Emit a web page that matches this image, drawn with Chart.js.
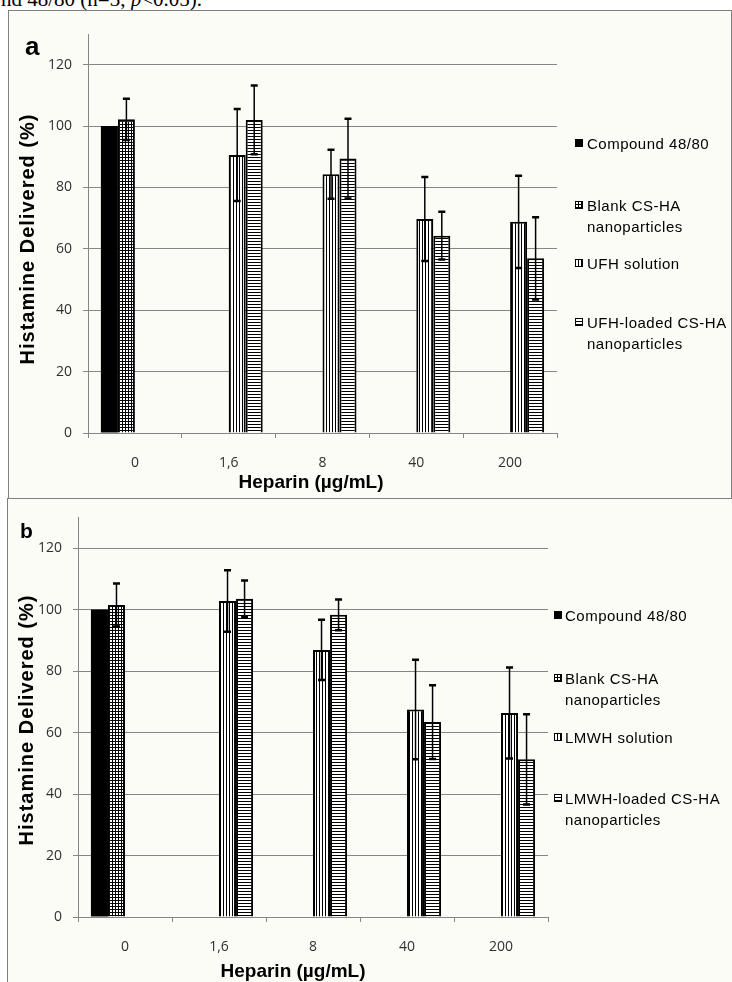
<!DOCTYPE html>
<html>
<head>
<meta charset="utf-8">
<script src="https://cdn.jsdelivr.net/npm/chart.js@4.4.1/dist/chart.umd.min.js"></script>
<style>
  html, body { margin: 0; padding: 0; background: #fff; width: 732px; height: 982px; overflow: hidden; }
  body { position: relative; font-family: "Liberation Sans", Arial, sans-serif; }
  .caption { position: absolute; left: 1px; top: -11px; font: 21px/21px "Liberation Serif", "Times New Roman", serif; white-space: nowrap; }
  .panel { position: absolute; background: #fcfcf6; box-sizing: border-box; }
  #panelA { left: 8px; top: 10px; width: 724px; height: 489px; border: 1px solid #808080; }
  #panelB { left: 7px; top: 498px; width: 725px; height: 490px; border-left: 1px solid #808080; border-top: 1px solid #808080; }
  canvas.chart { position: absolute; }
  .tag { position: absolute; font-weight: bold; line-height: 1; }
  .xt { position: absolute; font: bold 19px/19px "Liberation Sans", Arial, sans-serif; transform: translateX(-50%); white-space: nowrap; }
  .yt { position: absolute; font: bold 20px/20px "Liberation Sans", Arial, sans-serif; letter-spacing: 1px; transform: translate(-50%, -50%) rotate(-90deg); white-space: nowrap; }
  .item { position: absolute; font: 15px/21px "Liberation Sans", Arial, sans-serif; letter-spacing: 0.5px; white-space: nowrap; }
  .item canvas { position: absolute; left: 0; top: 6px; }
  .item span { position: absolute; top: 0; }
</style>
</head>
<body>
<div class="caption">nd 48/80 (n=3, <i>p</i>&lt;0.05).</div>

<div class="panel" id="panelA"></div>
<div class="panel" id="panelB"></div>

<canvas class="chart" id="chartA" width="723" height="488" style="left:8px;top:10px"></canvas>
<canvas class="chart" id="chartB" width="725" height="492" style="left:7px;top:498px"></canvas>

<div class="tag" style="left:25px;top:33px;font-size:26px">a</div>
<div class="tag" style="left:20px;top:520px;font-size:21px">b</div>

<div class="yt" style="left:27px;top:239px">Histamine Delivered (%)</div>
<div class="yt" style="left:26px;top:720px">Histamine Delivered (%)</div>
<div class="xt" style="left:311px;top:472px">Heparin (µg/mL)</div>
<div class="xt" style="left:293px;top:961px">Heparin (µg/mL)</div>

<div id="legendA"></div>
<div id="legendB"></div>

<script>
// concentrations on the x axis
const doses = ['0', '1,6', '8', '40', '200'];
const yTicks = [0, 20, 40, 60, 80, 100, 120];

// panel a - UFH
const compoundA = [100, null, null, null, null];
const blankA = [102.2, null, null, null, null];
const blankErrA = [6.7, null, null, null, null];
const ufhSol = [null, 90.6, 84.3, 69.7, 68.8];
const ufhSolErr = [null, 15, 8, 13.7, 15];
const ufhNp = [null, 102, 89.4, 64.3, 56.9];
const ufhNpErr = [null, 11.2, 13, 7.8, 13.4];
const seriesA = ['Compound 48/80', 'Blank CS-HA\nnanoparticles', 'UFH solution', 'UFH-loaded CS-HA\nnanoparticles'];

// panel b - LMWH
const compoundB = [100, null, null, null, null];
const blankB = [101.5, null, null, null, null];
const blankErrB = [7, null, null, null, null];
const lmwhSol = [null, 102.8, 86.9, 67.5, 66.4];
const lmwhSolErr = [null, 10, 9.8, 16.2, 14.8];
const lmwhNp = [null, 103.5, 98.3, 63.4, 51.3];
const lmwhNpErr = [null, 6, 5, 12, 14.7];
const seriesB = ['Compound 48/80', 'Blank CS-HA\nnanoparticles', 'LMWH solution', 'LMWH-loaded CS-HA\nnanoparticles'];

// hatch fills like the old excel ones
function makePattern(kind) {
    const c = document.createElement('canvas');
    c.width = 3; c.height = 3;
    const g = c.getContext('2d');
    g.fillStyle = '#fff';
    g.fillRect(0, 0, 3, 3);
    g.fillStyle = '#000';
    if (kind === 'grid' || kind === 'vert') g.fillRect(0, 0, 1, 3);
    if (kind === 'grid' || kind === 'horiz') g.fillRect(0, 0, 3, 1);
    return g.createPattern(c, 'repeat');
}
const fills = ['#000', makePattern('grid'), makePattern('vert'), makePattern('horiz')];

const errorBars = {
    id: 'errorBars',
    afterDatasetsDraw(chart) {
        const ctx = chart.ctx;
        const y = chart.scales.y;
        chart.data.datasets.forEach((ds, i) => {
            if (!ds.errors) return;
            chart.getDatasetMeta(i).data.forEach((bar, j) => {
                const v = ds.data[j], e = ds.errors[j];
                if (v == null || e == null) return;
                const top = y.getPixelForValue(v + e);
                const bot = y.getPixelForValue(v - e);
                ctx.save();
                ctx.strokeStyle = '#000';
                ctx.lineWidth = 1.5;
                ctx.beginPath();
                ctx.moveTo(bar.x, top); ctx.lineTo(bar.x, bot);
                ctx.stroke();
                ctx.lineWidth = 2.5;
                ctx.beginPath();
                ctx.moveTo(bar.x - 3.5, top); ctx.lineTo(bar.x + 3.5, top);
                ctx.moveTo(bar.x - 3.5, bot); ctx.lineTo(bar.x + 3.5, bot);
                ctx.stroke();
                ctx.restore();
            });
        });
    }
};

function makeChart(id, values, errors, pad, yWidth, xHeight) {
    const tickFont = { family: "'Open Sans', sans-serif", size: 14 };
    return new Chart(document.getElementById(id), {
        type: 'bar',
        data: {
            labels: doses,
            datasets: values.map((v, i) => ({
                data: v,
                errors: errors[i],
                backgroundColor: fills[i],
                borderColor: '#000',
                borderWidth: i === 0 ? 0 : 2,
                categoryPercentage: 0.725,
                barPercentage: 1.0
            }))
        },
        options: {
            responsive: false,
            animation: false,
            devicePixelRatio: 1,
            layout: { padding: pad },
            plugins: { legend: { display: false }, tooltip: { enabled: false } },
            scales: {
                x: {
                    grid: { drawOnChartArea: false, drawTicks: true, tickLength: 5, color: '#868686', offset: true },
                    border: { display: true, color: '#868686' },
                    ticks: { font: tickFont, color: '#303030', padding: 17, maxRotation: 0 },
                    afterFit(s) { s.height = xHeight; }
                },
                y: {
                    min: 0,
                    max: 130,
                    afterBuildTicks(s) { s.ticks = yTicks.map(v => ({ value: v })); },
                    grid: { color: '#868686', tickLength: 5, drawTicks: true },
                    border: { display: true, color: '#868686' },
                    ticks: { font: tickFont, color: '#303030', padding: 11 },
                    afterFit(s) { s.width = yWidth; }
                }
            }
        },
        plugins: [errorBars]
    });
}

function makeLegend(boxId, names, rows, markX, textX) {
    const box = document.getElementById(boxId);
    names.forEach((name, i) => {
        const item = document.createElement('div');
        item.className = 'item';
        item.style.left = markX + 'px';
        item.style.top = (rows[i] - 10.5) + 'px';
        const sw = document.createElement('canvas');
        sw.width = 8; sw.height = 8;
        const g = sw.getContext('2d');
        g.fillStyle = fills[i];
        g.fillRect(0, 0, 8, 8);
        g.strokeStyle = '#000';
        g.lineWidth = 1;
        g.strokeRect(0.5, 0.5, 7, 7);
        const txt = document.createElement('span');
        txt.style.left = (textX - markX) + 'px';
        txt.innerHTML = name.replace('\n', '<br>');
        item.appendChild(sw);
        item.appendChild(txt);
        box.appendChild(item);
    });
}

makeChart('chartA', [compoundA, blankA, ufhSol, ufhNp], [null, blankErrA, ufhSolErr, ufhNpErr],
    { top: 24, right: 174, bottom: 0, left: 0 }, 80, 65);
makeChart('chartB', [compoundB, blankB, lmwhSol, lmwhNp], [null, blankErrB, lmwhSolErr, lmwhNpErr],
    { top: 14, right: 184, bottom: 0, left: 0 }, 71, 73);

makeLegend('legendA', seriesA, [143, 205, 263, 322], 575, 587);
makeLegend('legendB', seriesB, [615, 678, 737, 798], 554, 565);
</script>
</body>
</html>
